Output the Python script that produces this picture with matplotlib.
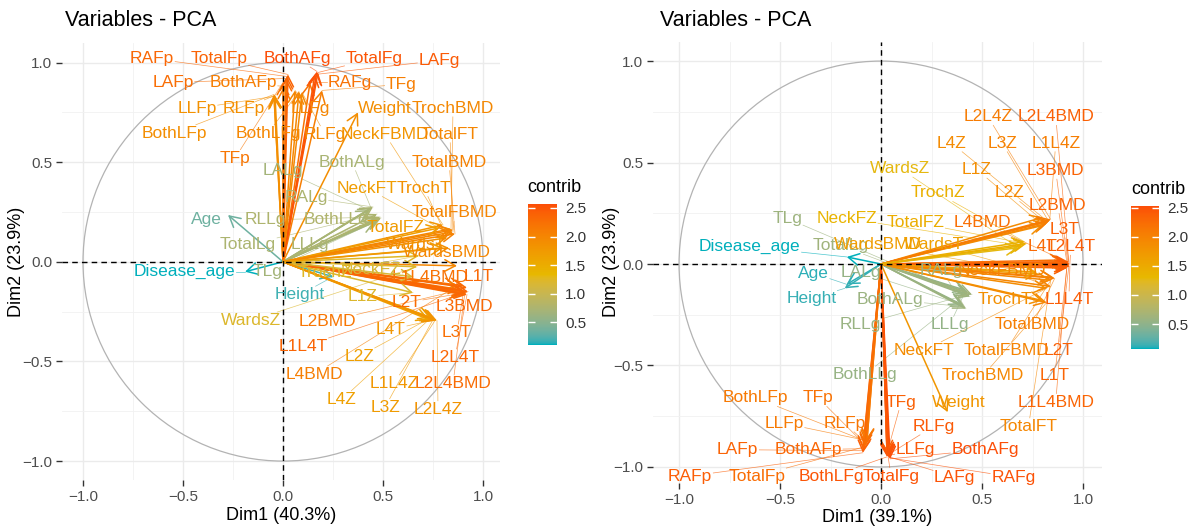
import matplotlib
matplotlib.use('Agg')
import matplotlib.pyplot as plt
import numpy as np
from matplotlib.colors import ListedColormap, Normalize, to_rgb
from matplotlib.patches import Circle, FancyArrowPatch

plt.rcParams['font.family'] = ['Liberation Sans', 'DejaVu Sans']

variables = [
    'RAFp', 'LAFp', 'BothAFp', 'RLFp', 'LLFp', 'BothLFp', 'TFp', 'TotalFp',
    'RAFg', 'LAFg', 'BothAFg', 'RLFg', 'LLFg', 'BothLFg', 'TFg', 'TotalFg',
    'RALg', 'LALg', 'BothALg', 'RLLg', 'LLLg', 'BothLLg', 'TLg', 'TotalLg',
    'Age', 'Disease_age', 'Height', 'Weight',
    'L2BMD', 'L3BMD', 'L4BMD', 'L1L4BMD', 'L2L4BMD',
    'L1T', 'L2T', 'L3T', 'L4T', 'L1L4T', 'L2L4T',
    'L1Z', 'L2Z', 'L3Z', 'L4Z', 'L1L4Z', 'L2L4Z',
    'NeckFBMD', 'TrochBMD', 'WardsBMD', 'TotalFBMD', 'TotalBMD',
    'NeckFT', 'TrochT', 'WardsT', 'TotalFT',
    'NeckFZ', 'TrochZ', 'WardsZ', 'TotalFZ',
]

# ---- PCA 1 ----
pca1_pct = (40.3, 23.9)
pca1_dim1 = [0.02, 0.015, 0.005, -0.04, -0.045, -0.045, 0.0, 0.025,
             0.135, 0.16, 0.17, 0.095, 0.06, 0.08, 0.195, 0.175,
             0.45, 0.43, 0.44, 0.485, 0.48, 0.49, 0.46, 0.47,
             -0.275, -0.19, 0.25, 0.375,
             0.89, 0.915, 0.87, 0.90, 0.91,
             0.92, 0.91, 0.90, 0.76, 0.925, 0.92,
             0.65, 0.74, 0.75, 0.73, 0.76, 0.77,
             0.80, 0.84, 0.87, 0.85, 0.86,
             0.78, 0.82, 0.83, 0.85,
             0.65, 0.68, 0.67, 0.80]
pca1_dim2 = [0.93, 0.92, 0.88, 0.835, 0.83, 0.84, 0.90, 0.94,
             0.90, 0.94, 0.955, 0.85, 0.86, 0.855, 0.86, 0.95,
             0.275, 0.26, 0.27, 0.225, 0.215, 0.22, 0.20, 0.24,
             0.235, -0.05, -0.075, 0.75,
             -0.14, -0.16, -0.12, -0.12, -0.15,
             -0.13, -0.155, -0.165, -0.29, -0.15, -0.165,
             -0.155, -0.28, -0.29, -0.29, -0.295, -0.295,
             0.185, 0.165, -0.02, 0.16, 0.14,
             0.17, 0.12, 0.07, 0.15,
             -0.075, 0.03, -0.025, 0.07]
pca1_contrib = [2.33, 2.28, 2.08, 1.88, 1.86, 1.90, 2.18, 2.38,
                2.23, 2.45, 2.57, 1.97, 2.00, 1.98, 2.09, 2.51,
                0.75, 0.68, 0.72, 0.77, 0.74, 0.78, 0.68, 0.75,
                0.35, 0.10, 0.18, 1.89,
                2.18, 2.32, 2.07, 2.22, 2.29,
                2.32, 2.29, 2.25, 1.78, 2.36, 2.35,
                1.20, 1.68, 1.74, 1.66, 1.78, 1.83,
                1.81, 1.97, 1.99, 2.01, 2.04,
                1.71, 1.85, 1.87, 2.00,
                1.15, 1.24, 1.21, 1.74]

# ---- PCA 2 ----
pca2_pct = (39.1, 23.9)
pca2_dim1 = [-0.09, -0.085, -0.09, -0.075, -0.07, -0.07, -0.08, -0.08,
             0.04, 0.04, 0.045, 0.035, 0.03, 0.03, 0.03, 0.035,
             0.42, 0.40, 0.41, 0.43, 0.42, 0.43, 0.44, 0.45,
             -0.17, -0.17, -0.18, 0.33,
             0.92, 0.925, 0.90, 0.92, 0.93,
             0.92, 0.93, 0.93, 0.91, 0.935, 0.935,
             0.80, 0.82, 0.83, 0.80, 0.835, 0.84,
             0.84, 0.82, 0.78, 0.85, 0.86,
             0.82, 0.80, 0.77, 0.84,
             0.70, 0.71, 0.68, 0.72]
pca2_dim2 = [-0.93, -0.92, -0.91, -0.88, -0.87, -0.875, -0.89, -0.90,
             -0.955, -0.95, -0.96, -0.94, -0.945, -0.95, -0.93, -0.95,
             -0.22, -0.20, -0.21, -0.15, -0.13, -0.14, -0.16, -0.15,
             -0.10, 0.035, -0.12, -0.73,
             0.01, 0.005, 0.02, -0.01, 0.01,
             -0.02, -0.01, 0.0, 0.01, -0.01, 0.0,
             0.19, 0.20, 0.21, 0.23, 0.215, 0.22,
             -0.11, -0.19, -0.05, -0.065, -0.07,
             -0.12, -0.18, -0.04, -0.08,
             0.09, 0.11, 0.08, 0.10]
pca2_contrib = [2.39, 2.34, 2.29, 2.14, 2.09, 2.11, 2.19, 2.24,
                2.50, 2.48, 2.53, 2.42, 2.45, 2.47, 2.37, 2.48,
                0.62, 0.55, 0.58, 0.57, 0.53, 0.56, 0.60, 0.62,
                0.11, 0.07, 0.13, 1.76,
                2.32, 2.34, 2.22, 2.32, 2.37,
                2.32, 2.37, 2.37, 2.27, 2.40, 2.40,
                1.85, 1.95, 2.01, 1.90, 2.04, 2.07,
                1.97, 1.94, 1.67, 1.99, 2.04,
                1.88, 1.84, 1.63, 1.95,
                1.36, 1.41, 1.28, 1.45]

# label placement (repelled away from the arrow tips)
pca1_text_pos = {
    'RAFp': (-0.655, 1.02), 'TotalFp': (-0.32, 1.02), 'BothAFg': (0.07, 1.02),
    'TotalFg': (0.455, 1.02), 'LAFg': (0.78, 1.01), 'LAFp': (-0.55, 0.90),
    'BothAFp': (-0.2, 0.90), 'RAFg': (0.335, 0.90), 'TFg': (0.59, 0.89),
    'LLFp': (-0.43, 0.77), 'RLFp': (-0.195, 0.77), 'LLFg': (0.135, 0.77),
    'Weight': (0.51, 0.77), 'TrochBMD': (0.85, 0.77), 'BothLFp': (-0.545, 0.645),
    'BothLFg': (-0.075, 0.645), 'RLFg': (0.21, 0.64), 'NeckFBMD': (0.51, 0.64),
    'TotalFT': (0.835, 0.64), 'TFp': (-0.24, 0.52), 'LALg': (0.0, 0.46),
    'BothALg': (0.345, 0.50), 'TotalBMD': (0.83, 0.50), 'NeckFT': (0.42, 0.37),
    'TrochT': (0.705, 0.37), 'RALg': (0.115, 0.325), 'Age': (-0.385, 0.21),
    'RLLg': (-0.09, 0.21), 'BothLLg': (0.265, 0.21), 'TotalFBMD': (0.86, 0.245),
    'TotalFZ': (0.565, 0.17), 'TotalLg': (-0.175, 0.085), 'LLLg': (0.135, 0.085),
    'WardsT': (0.665, 0.085), 'WardsBMD': (0.82, 0.045), 'Disease_age': (-0.495, -0.05),
    'TLg': (-0.075, -0.05), 'TrochZ': (0.21, -0.055), 'NeckFZ': (0.44, -0.04),
    'L1L4BMD': (0.735, -0.08), 'L1T': (0.98, -0.075), 'Height': (0.085, -0.165),
    'L1Z': (0.40, -0.175), 'L2T': (0.62, -0.205), 'L3BMD': (0.905, -0.225),
    'WardsZ': (-0.16, -0.295), 'L2BMD': (0.22, -0.30), 'L4T': (0.54, -0.34),
    'L3T': (0.87, -0.355), 'L1L4T': (0.10, -0.425), 'L2Z': (0.38, -0.475),
    'L2L4T': (0.86, -0.48), 'L4BMD': (0.155, -0.565), 'L1L4Z': (0.555, -0.61),
    'L2L4BMD': (0.85, -0.61), 'L4Z': (0.295, -0.69), 'L3Z': (0.51, -0.73),
    'L2L4Z': (0.775, -0.74),
}
pca2_text_pos = {
    'WardsZ': (0.095, 0.47), 'TLg': (-0.465, 0.225), 'NeckFZ': (-0.17, 0.225),
    'TotalFZ': (0.17, 0.205), 'L4BMD': (0.50, 0.205), 'Disease_age': (-0.65, 0.085),
    'TotalLg': (-0.2, 0.09), 'WardsBMD': (-0.015, 0.095), 'WardsT': (0.26, 0.095),
    'L4T': (0.80, 0.085), 'L2L4T': (0.94, 0.085), 'L3T': (0.91, 0.17),
    'L2BMD': (0.875, 0.29), 'L2Z': (0.635, 0.35), 'TrochZ': (0.28, 0.35),
    'L1Z': (0.475, 0.465), 'L3BMD': (0.865, 0.46), 'L4Z': (0.35, 0.595),
    'L3Z': (0.60, 0.595), 'L1L4Z': (0.865, 0.595), 'L2L4Z': (0.53, 0.725),
    'L2L4BMD': (0.865, 0.725), 'Age': (-0.335, -0.045), 'LALg': (-0.10, -0.04),
    'Height': (-0.345, -0.17), 'BothALg': (0.045, -0.175), 'RLLg': (-0.105, -0.30),
    'BothLLg': (-0.08, -0.545), 'BothLFp': (-0.62, -0.66), 'TFp': (-0.31, -0.66),
    'LLFp': (-0.48, -0.785), 'RLFp': (-0.18, -0.785), 'LAFp': (-0.71, -0.915),
    'BothAFp': (-0.36, -0.915), 'RAFp': (-0.945, -1.045), 'TotalFp': (-0.615, -1.045),
    'BothLFg': (-0.245, -1.045), 'TotalFg': (0.05, -1.045), 'TrochT': (0.615, -0.175),
    'L1L4T': (0.93, -0.175), 'LLLg': (0.34, -0.30), 'TotalBMD': (0.75, -0.30),
    'NeckFT': (0.215, -0.425), 'TotalFBMD': (0.62, -0.425), 'L2T': (0.88, -0.425),
    'TrochBMD': (0.505, -0.55), 'L1T': (0.86, -0.55), 'TFg': (0.10, -0.68),
    'Weight': (0.385, -0.68), 'L1L4BMD': (0.865, -0.68), 'RLFg': (0.26, -0.80),
    'TotalFT': (0.73, -0.80), 'LLFg': (0.17, -0.915), 'BothAFg': (0.515, -0.915),
    'LAFg': (0.365, -1.05), 'RAFg': (0.655, -1.05), 'RALg': (0.30, -0.03),
    'NeckFBMD': (0.60, -0.03),
}

W, H = 1198, 532


# gradient built in CIELAB so the teal -> yellow half goes through grey-green
_M = np.array([[0.4124, 0.3576, 0.1805], [0.2126, 0.7152, 0.0722], [0.0193, 0.1192, 0.9505]])
_WHITE = np.array([0.95047, 1.0, 1.08883])


def rgb_to_lab(rgb):
    c = np.asarray(rgb, float)
    lin = np.where(c <= 0.04045, c / 12.92, ((c + 0.055) / 1.055) ** 2.4)
    xyz = _M @ lin / _WHITE
    f = np.where(xyz > 0.008856, np.cbrt(xyz), 7.787 * xyz + 16 / 116)
    return np.array([116 * f[1] - 16, 500 * (f[0] - f[1]), 200 * (f[1] - f[2])])


def lab_to_rgb(lab):
    L, a, b = lab
    fy = (L + 16) / 116
    f = np.array([fy + a / 500, fy, fy - b / 200])
    xyz = np.where(f ** 3 > 0.008856, f ** 3, (f - 16 / 116) / 7.787) * _WHITE
    lin = np.linalg.solve(_M, xyz)
    c = np.where(lin <= 0.0031308, 12.92 * lin, 1.055 * np.clip(lin, 0, None) ** (1 / 2.4) - 0.055)
    return np.clip(c, 0, 1)


stops = [rgb_to_lab(to_rgb(c)) for c in ['#00AFBB', '#E7B800', '#FC4E07']]
ramp = []
for v in np.linspace(0, 1, 256):
    seg = min(int(v * 2), 1)
    t = v * 2 - seg
    ramp.append(lab_to_rgb(stops[seg] * (1 - t) + stops[seg + 1] * t))
cmap = ListedColormap(ramp, name='contrib')

fig = plt.figure(figsize=(W / 100, H / 100), dpi=100)


def px_box(x0, y0, x1, y1):
    return [x0 / W, 1 - y1 / H, (x1 - x0) / W, (y1 - y0) / H]


def draw_panel(ax, dim1, dim2, contrib, text_pos, xlim, ylim):
    norm = Normalize(min(contrib), max(contrib))
    ax.set_xlim(*xlim)
    ax.set_ylim(*ylim)
    for s in ax.spines.values():
        s.set_visible(False)
    ticks = [-1.0, -0.5, 0.0, 0.5, 1.0]
    ax.set_xticks(ticks)
    ax.set_yticks(ticks)
    ax.set_xticks([-0.75, -0.25, 0.25, 0.75], minor=True)
    ax.set_yticks([-0.75, -0.25, 0.25, 0.75], minor=True)
    ax.grid(which='major', color='#EBEBEB', lw=1.0, zorder=0)
    ax.grid(which='minor', color='#F1F1F1', lw=0.6, zorder=0)
    ax.tick_params(which='major', length=4, width=1, color='#333333',
                   labelsize=11, labelcolor='#4D4D4D', pad=3)
    ax.tick_params(which='minor', length=0)
    ax.set_axisbelow(True)

    ax.add_patch(Circle((0, 0), 1.0, fill=False, color='#B3B3B3', lw=0.9, zorder=1))

    colors = [cmap(norm(c)) for c in contrib]
    for x, y, col in zip(dim1, dim2, colors):
        ax.add_patch(FancyArrowPatch((0, 0), (x, y), arrowstyle='->,head_length=0.55,head_width=0.3',
                                     mutation_scale=14, color=col, lw=1.1,
                                     shrinkA=0, shrinkB=0, zorder=3))
    ax.axhline(0, color='black', lw=1.0, ls=(0, (4, 3)), zorder=4)
    ax.axvline(0, color='black', lw=1.0, ls=(0, (4, 3)), zorder=4)

    texts = []
    for name, x, y, col in zip(variables, dim1, dim2, colors):
        tx, ty = text_pos[name]
        t = ax.text(tx, ty, name, color=col, fontsize=12.5, ha='center', va='center', zorder=5)
        texts.append((t, (x, y), col))
    return norm, texts


def add_segments(ax, texts, renderer):
    # thin leader lines from each label's box edge to its arrow tip
    inv = ax.transData.inverted()
    for t, tip, col in texts:
        bb = t.get_window_extent(renderer)
        px, py = ax.transData.transform(tip)
        if bb.x0 - 2 <= px <= bb.x1 + 2 and bb.y0 - 2 <= py <= bb.y1 + 2:
            continue
        cx, cy = (bb.x0 + bb.x1) / 2, (bb.y0 + bb.y1) / 2
        dx, dy = px - cx, py - cy
        hw, hh = bb.width / 2 + 1, bb.height / 2 + 1
        s = min(hw / abs(dx) if dx else np.inf, hh / abs(dy) if dy else np.inf)
        sx, sy = cx + dx * s, cy + dy * s
        if np.hypot(px - sx, py - sy) < 6:
            continue
        (x0, y0), (x1, y1) = inv.transform([(sx, sy), (px, py)])
        ax.plot([x0, x1], [y0, y1], color=col, lw=0.5, alpha=0.7, zorder=2)


def add_colorbar(box, norm, title_xy):
    cax = fig.add_axes(px_box(*box))
    sm = plt.cm.ScalarMappable(norm=norm, cmap=cmap)
    cb = fig.colorbar(sm, cax=cax)
    cb.outline.set_visible(False)
    cb.set_ticks([0.5, 1.0, 1.5, 2.0, 2.5])
    cax.tick_params(length=5, width=1, color='white', direction='in',
                    left=True, right=True, labelleft=False, labelright=True,
                    labelsize=11, labelcolor='#333333', pad=6)
    fig.text(title_xy[0] / W, 1 - title_xy[1] / H, 'contrib', fontsize=13, va='center', ha='left')


ax1 = fig.add_axes(px_box(62, 43, 500, 480))
norm1, texts1 = draw_panel(ax1, pca1_dim1, pca1_dim2, pca1_contrib, pca1_text_pos,
                           (-1.105, 1.085), (-1.095, 1.098))
ax2 = fig.add_axes(px_box(653, 42, 1102, 483))
norm2, texts2 = draw_panel(ax2, pca2_dim1, pca2_dim2, pca2_contrib, pca2_text_pos,
                           (-1.129, 1.094), (-1.079, 1.094))

fig.canvas.draw()
renderer = fig.canvas.get_renderer()
add_segments(ax1, texts1, renderer)
add_segments(ax2, texts2, renderer)

add_colorbar((528, 204, 557, 345), norm1, (527, 187))
add_colorbar((1131, 206, 1159, 349), norm2, (1131, 189))

for x0, pct, xc, yc, ylx in [(65, pca1_pct, 281, 516, 17), (660, pca2_pct, 877, 518, 612)]:
    fig.text(x0 / W, 1 - 21 / H, 'Variables - PCA', fontsize=15.5, ha='left', va='center')
    fig.text(xc / W, 1 - yc / H, 'Dim1 (%.1f%%)' % pct[0], fontsize=13, ha='center', va='center')
    fig.text(ylx / W, 1 - 262 / H, 'Dim2 (%.1f%%)' % pct[1], fontsize=13, ha='center',
             va='center', rotation=90)

fig.savefig('out.png', dpi=100)
